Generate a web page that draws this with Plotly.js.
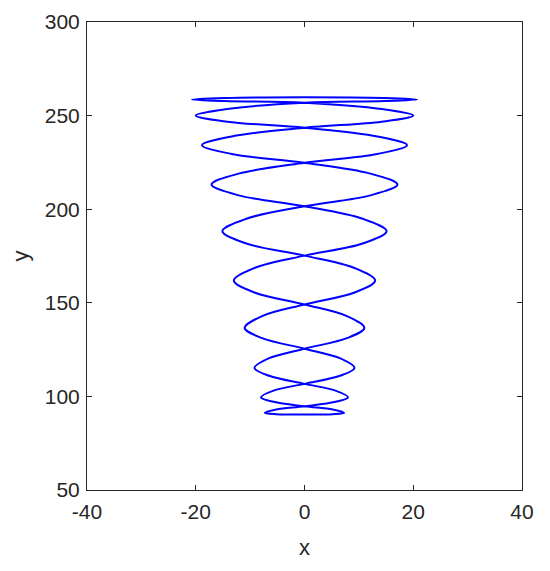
<!DOCTYPE html>
<html>
<head>
<meta charset="utf-8">
<script src="https://cdn.plot.ly/plotly-3.0.1.min.js"></script>
<style>html,body{margin:0;padding:0;background:#fff;}#chart{width:550px;height:571px;}</style>
</head>
<body>
<div id="chart"></div>
<script>
// Bottom turn (from centre to right tip)
const bottomRightX = [0, 5.2, 7.3];
const bottomRightY = [90.3, 90.5, 91.2];
// Rising strand: right tip at the bottom up to the left tip at the top
const upX = [5.2, 0, -5.7, -8.0, -5.7, 0, 6.5, 9.2, 6.5, 0, -7.8, -11.0, -7.8, 0, 9.2, 13.0, 9.2, 0,
             -10.7, -15.1, -10.7, 0, 12.1, 17.1, 12.1, 0, -13.4, -18.85, -13.4, 0, 14.2, 20.0, 14.2, 0, -14.7, -20.7];
const upY = [93.0, 94.7, 97.1, 99.5, 103.1, 106.7, 111.0, 115.2, 120.4, 125.5, 131.1, 136.6, 142.9, 149.1, 155.5, 161.9, 168.6, 175.2,
             181.7, 188.2, 194.9, 201.6, 207.4, 213.2, 219.0, 224.8, 229.5, 234.2, 238.85, 243.5, 246.75, 250.0, 253.5, 256.9, 257.75, 258.6];
// Top turn: left tip across to right tip
const topX = [-14.7, 0, 14.7, 20.7];
const topY = [259.4, 259.8, 259.4, 258.6];
// Falling strand: right tip at the top down to the left tip at the bottom
const downX = [14.7, 0, -14.2, -20.0, -14.2, 0, 13.4, 18.85, 13.4, 0, -12.1, -17.1, -12.1, 0, 10.7, 15.1, 10.7, 0,
               -9.2, -13.0, -9.2, 0, 7.8, 11.0, 7.8, 0, -6.5, -9.2, -6.5, 0, 5.7, 8.0, 5.7, 0, -5.2, -7.3];
const downY = [257.75, 256.9, 253.5, 250.0, 246.75, 243.5, 238.85, 234.2, 229.5, 224.8, 219.0, 213.2, 207.4, 201.6, 194.9, 188.2, 181.7, 175.2,
               168.6, 161.9, 155.5, 149.1, 142.9, 136.6, 131.1, 125.5, 120.4, 115.2, 111.0, 106.7, 103.1, 99.5, 97.1, 94.7, 93.0, 91.2];
// Bottom turn: left tip back to centre
const bottomLeftX = [-5.2, 0];
const bottomLeftY = [90.5, 90.3];

const xTicks = [-40, -20, 0, 20, 40];
const yTicks = [50, 100, 150, 200, 250, 300];

const X = [].concat(bottomRightX, upX, topX, downX, bottomLeftX);
const Y = [].concat(bottomRightY, upY, topY, downY, bottomLeftY);

const axisColor = '#262626';
const fontFam = 'Liberation Sans, Arial, Helvetica, sans-serif';

const trace = {
  x: X, y: Y, type: 'scatter', mode: 'lines',
  line: {color: '#0000ff', width: 2, shape: 'spline', smoothing: 1},
  hoverinfo: 'skip'
};

const layout = {
  width: 550, height: 571,
  margin: {l: 87, r: 28, t: 22, b: 81},
  paper_bgcolor: '#ffffff', plot_bgcolor: '#ffffff',
  showlegend: false,
  font: {family: fontFam, color: axisColor, size: 21},
  xaxis: {
    range: [-40, 40], tickvals: xTicks, ticktext: xTicks.map(String),
    showgrid: false, zeroline: false, showline: true, linecolor: axisColor, linewidth: 1,
    mirror: 'ticks', ticks: 'inside', ticklen: 5, tickwidth: 1, tickcolor: axisColor,
    tickfont: {family: fontFam, size: 21, color: axisColor}, ticklabelstandoff: 3,
    title: {text: 'x', font: {family: fontFam, size: 22, color: axisColor}, standoff: 17}
  },
  yaxis: {
    range: [50, 300], tickvals: yTicks, ticktext: yTicks.map(String),
    showgrid: false, zeroline: false, showline: true, linecolor: axisColor, linewidth: 1,
    mirror: 'ticks', ticks: 'inside', ticklen: 5, tickwidth: 1, tickcolor: axisColor,
    tickfont: {family: fontFam, size: 21, color: axisColor}, ticklabelstandoff: 2,
    title: {text: 'y', font: {family: fontFam, size: 22, color: axisColor}, standoff: 10}
  }
};

Plotly.newPlot('chart', [trace], layout, {displayModeBar: false, staticPlot: true});
</script>
</body>
</html>
